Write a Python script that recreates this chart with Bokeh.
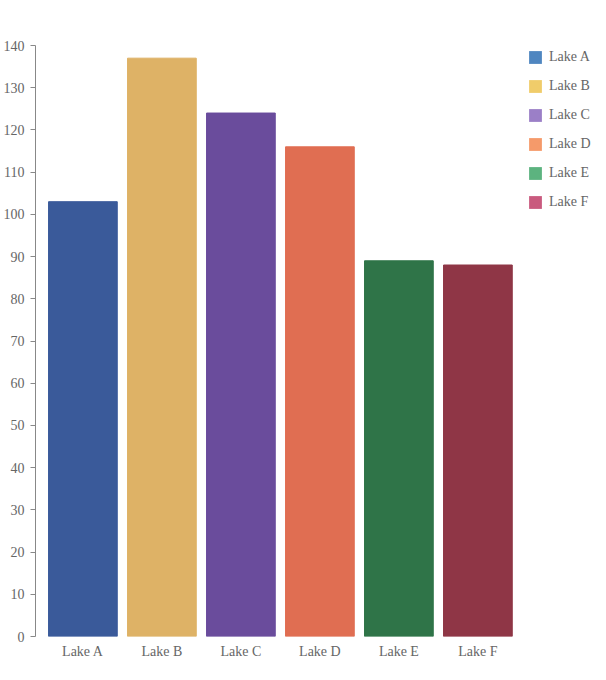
from bokeh.plotting import figure
from bokeh.models import Range1d, Legend, LegendItem, ColumnDataSource, SingleIntervalTicker, FixedTicker
from bokeh.embed import file_html
from bokeh.resources import INLINE

lakes = ["Lake A", "Lake B", "Lake C", "Lake D", "Lake E", "Lake F"]
values = [103, 137, 124, 116, 89, 88]
bar_colors = ["#3a5a9a", "#deb266", "#6a4c9c", "#e06e52", "#2f7448", "#8f3646"]
legend_colors = ["#4f86c0", "#f0cc6a", "#9b7fc7", "#f59a6a", "#5cb37f", "#c95a7e"]

FONT = "Liberation Serif"
TXT = "#666666"

pos = list(range(len(lakes)))

p = figure(x_range=Range1d(-0.6, 6.552), y_range=Range1d(0, 140),
           width=600, height=672, output_backend="svg", toolbar_location=None,
           min_border_left=35, min_border_top=45, min_border_bottom=36, min_border_right=0)

src = ColumnDataSource(dict(x=pos, top=values, color=bar_colors))
p.vbar(x="x", top="top", width=0.87, source=src, fill_color="color", line_color="color", line_width=1)

items = []
for name, c in zip(lakes, legend_colors):
    r = p.vbar(x=[0], top=[0], width=0.0001, fill_color=c, line_color=None)
    items.append(LegendItem(label=name, renderers=[r]))

legend = Legend(items=items, location="top_right", margin=4, padding=6,
                glyph_width=16, glyph_height=16, label_height=16, label_width=47, spacing=13,
                label_text_font=FONT, label_text_font_size="14px", label_text_color=TXT,
                label_standoff=6, border_line_color=None, background_fill_alpha=0)
p.add_layout(legend, "center")

p.grid.visible = False
p.outline_line_color = None

p.yaxis.ticker = SingleIntervalTicker(interval=10)
p.yaxis.minor_tick_line_color = None
p.yaxis.major_tick_out = 5
p.yaxis.major_tick_in = 0
p.yaxis.axis_line_color = "#888888"
p.yaxis.major_tick_line_color = "#888888"
p.yaxis.major_label_text_font = FONT
p.yaxis.major_label_text_font_size = "14px"
p.yaxis.major_label_text_color = TXT
p.yaxis.major_label_standoff = 6

p.xaxis.ticker = FixedTicker(ticks=pos)
p.xaxis.major_label_overrides = {i: name for i, name in zip(pos, lakes)}
p.xaxis.axis_line_color = None
p.xaxis.major_tick_line_color = None
p.xaxis.minor_tick_line_color = None
p.xaxis.major_label_text_font = FONT
p.xaxis.major_label_text_font_size = "14px"
p.xaxis.major_label_text_color = TXT
p.xaxis.major_label_standoff = 1

open("out.html", "w").write(file_html(p, INLINE))
